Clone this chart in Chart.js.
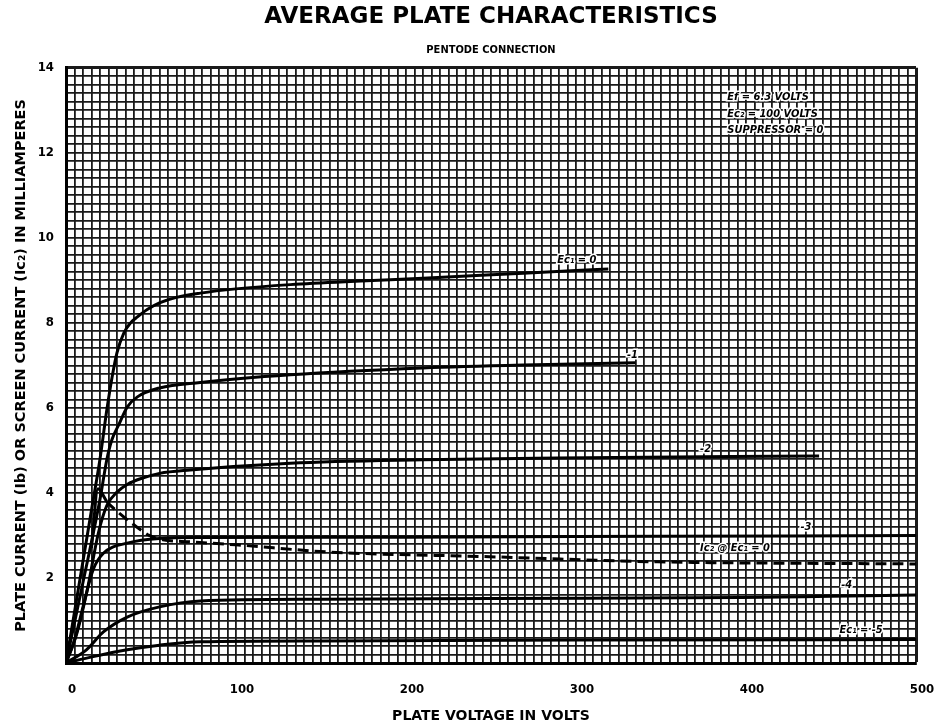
<!DOCTYPE html>
<html>
<head>
<meta charset="utf-8">
<title>Average Plate Characteristics</title>
<script src="https://cdn.jsdelivr.net/npm/chart.js@4/dist/chart.umd.min.js"></script>
<style>
  html, body { margin: 0; padding: 0; background: #fff; }
  #graph { display: block; }
</style>
</head>
<body>
<canvas id="graph" width="938" height="727"></canvas>
<script>
// plate voltage (V) / plate current (mA)
var volts0 = [0, 5, 10, 15, 20, 24, 27, 30, 34, 38, 42, 48, 55, 65, 79, 100, 132, 170, 210, 269, 319];
var amps0  = [0, 1.2, 2.4, 3.6, 4.8, 5.95, 6.7, 7.3, 7.76, 8.0, 8.14, 8.32, 8.47, 8.6, 8.7, 8.8, 8.9, 8.98, 9.05, 9.17, 9.27];

var volts1 = [0, 10, 20, 24, 27, 31, 36, 42, 55, 79, 132, 210, 269, 335];
var amps1  = [0, 1.9, 3.85, 4.78, 5.25, 5.6, 6.02, 6.26, 6.47, 6.6, 6.78, 6.94, 7.01, 7.06];

var volts2 = [0, 6.4, 12.4, 19, 24, 30, 36, 45, 55, 73, 132, 210, 289, 443];
var amps2  = [0, 0.7, 1.7, 3.05, 3.7, 4.02, 4.2, 4.35, 4.46, 4.54, 4.7, 4.78, 4.82, 4.87];

var volts3 = [0, 5, 10, 16, 22, 36, 55, 79, 200, 350, 500];
var amps3  = [0, 0.54, 1.32, 2.2, 2.58, 2.82, 2.93, 2.95, 2.96, 2.98, 3.0];

var volts4 = [0, 12, 22, 36, 55, 79, 150, 250, 397, 450, 500];
var amps4  = [0, 0.31, 0.73, 1.08, 1.32, 1.46, 1.5, 1.52, 1.54, 1.57, 1.6];

var volts5 = [0, 16, 36, 55, 79, 150, 300, 500];
var amps5  = [0, 0.15, 0.31, 0.42, 0.5, 0.52, 0.54, 0.55];

// screen current at Ec1 = 0
var voltsScreen = [15, 18.8, 24, 32, 41.6, 49, 57, 73, 100, 155, 249, 348, 500];
var ampsScreen  = [2.7, 4.1, 3.8, 3.5, 3.2, 3.0, 2.9, 2.85, 2.78, 2.61, 2.5, 2.38, 2.33];

var xLabels = [0, 100, 200, 300, 400, 500];
var yLabels = [2, 4, 6, 8, 10, 12, 14];

var notes = [
  { text: "Ef = 6.3 VOLTS", v: 389, ma: 13.3 },
  { text: "Ec\u2082 = 100 VOLTS", v: 389, ma: 12.9 },
  { text: "SUPPRESSOR = 0", v: 389, ma: 12.54 },
  { text: "Ec\u2081 = 0", v: 289, ma: 9.48 },
  { text: "-1", v: 330, ma: 7.25 },
  { text: "-2", v: 373, ma: 5.04 },
  { text: "-3", v: 432, ma: 3.2 },
  { text: "Ic\u2082 @ Ec\u2081 = 0", v: 373, ma: 2.7 },
  { text: "-4", v: 456, ma: 1.84 },
  { text: "Ec\u2081 = -5", v: 455, ma: 0.78 }
];

function pts(xs, ys) {
  return xs.map(function (x, i) { return { x: x, y: ys[i] }; });
}

function curve(label, xs, ys) {
  return {
    label: label,
    data: pts(xs, ys),
    borderColor: "#000",
    borderWidth: 3,
    pointRadius: 0,
    fill: false,
    cubicInterpolationMode: "monotone"
  };
}

var notePlugin = {
  id: "notes",
  afterDatasetsDraw: function (chart) {
    var ctx = chart.ctx;
    var xs = chart.scales.x, ys = chart.scales.y;
    ctx.save();
    ctx.font = "italic bold 11px 'DejaVu Sans Condensed', 'DejaVu Sans', sans-serif";
    ctx.textAlign = "left";
    ctx.textBaseline = "middle";
    notes.forEach(function (n) {
      var px = xs.getPixelForValue(n.v);
      var py = ys.getPixelForValue(n.ma);
      ctx.lineWidth = 3;
      ctx.strokeStyle = "#fff";
      ctx.strokeText(n.text, px, py);
      ctx.fillStyle = "#000";
      ctx.fillText(n.text, px, py);
    });
    ctx.restore();
  }
};

Chart.defaults.font.family = "'DejaVu Sans Condensed', 'DejaVu Sans', sans-serif";
Chart.defaults.color = "#000";
var wide = "'DejaVu Sans', sans-serif";

var screenSet = curve("Ic2 @ Ec1 = 0", voltsScreen, ampsScreen);
screenSet.segment = {
  borderDash: function (c) { return c.p0DataIndex < 2 ? [] : [11, 6]; }
};

new Chart(document.getElementById("graph").getContext("2d"), {
  type: "line",
  data: {
    datasets: [
      curve("Ec1 = 0", volts0, amps0),
      curve("-1", volts1, amps1),
      curve("-2", volts2, amps2),
      curve("-3", volts3, amps3),
      curve("-4", volts4, amps4),
      curve("Ec1 = -5", volts5, amps5),
      screenSet
    ]
  },
  options: {
    responsive: false,
    animation: false,
    devicePixelRatio: 1,
    layout: { padding: { left: 0, right: 22, top: 0, bottom: 0 } },
    plugins: {
      legend: { display: false },
      tooltip: { enabled: false },
      title: {
        display: true,
        fullSize: false,
        text: "AVERAGE PLATE CHARACTERISTICS",
        font: { family: wide, size: 23, weight: "bold" },
        padding: { top: 3, bottom: 6 }
      },
      subtitle: {
        display: true,
        fullSize: false,
        text: "PENTODE CONNECTION",
        font: { size: 11, weight: "bold" },
        padding: { top: 7, bottom: 11 }
      }
    },
    scales: {
      x: {
        type: "linear",
        min: 0,
        max: 500,
        afterFit: function (s) {
          s.height = 64;
          s.paddingLeft = 0;
          s.paddingRight = 0;
        },
        border: { display: true, color: "#000", width: 3 },
        grid: {
          color: "#1a1a1a",
          lineWidth: function (c) { return c.tick && c.tick.value === 500 ? 3 : 1.8; },
          drawTicks: false
        },
        ticks: {
          stepSize: 5,
          autoSkip: false,
          maxRotation: 0,
          padding: 19,
          labelOffset: 6,
          font: { size: 13, weight: "bold" },
          callback: function (v) { return xLabels.indexOf(v) >= 0 ? String(v) : ""; }
        },
        title: {
          display: true,
          text: "PLATE VOLTAGE IN VOLTS",
          font: { family: wide, size: 14, weight: "bold" },
          padding: { top: 0, bottom: 2 }
        }
      },
      y: {
        type: "linear",
        min: 0,
        max: 14,
        afterFit: function (s) { s.width = 66; },
        border: { display: true, color: "#000", width: 3 },
        grid: {
          color: "#1a1a1a",
          lineWidth: function (c) { return c.tick && Math.abs(c.tick.value - 14) < 0.01 ? 3 : 1.8; },
          drawTicks: false
        },
        ticks: {
          stepSize: 0.2,
          autoSkip: false,
          padding: 12,
          font: { size: 13, weight: "bold" },
          callback: function (v) {
            var r = Math.round(v * 10) / 10;
            return yLabels.indexOf(r) >= 0 ? String(r) : "";
          }
        },
        title: {
          display: true,
          text: "PLATE CURRENT (Ib) OR SCREEN CURRENT (Ic\u2082) IN MILLIAMPERES",
          font: { family: wide, size: 14.5, weight: "bold" },
          padding: { top: 13, bottom: 0 }
        }
      }
    }
  },
  plugins: [notePlugin]
});
</script>
</body>
</html>
